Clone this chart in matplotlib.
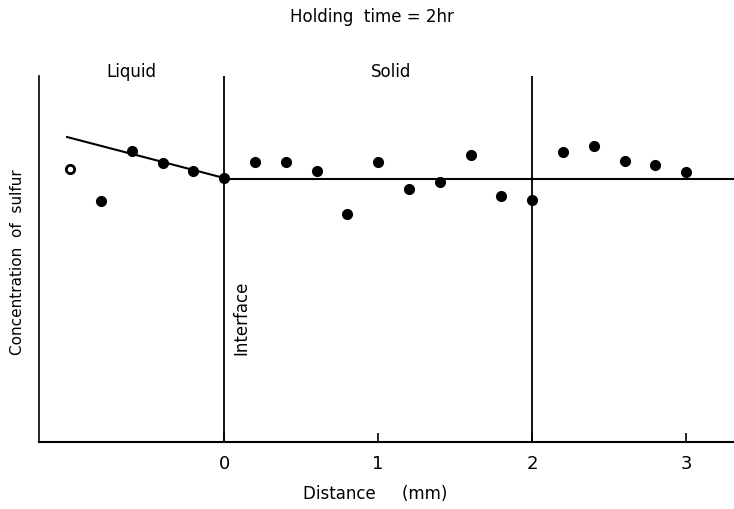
import matplotlib
matplotlib.use("Agg")
import matplotlib.pyplot as plt

# Data (distance in mm, concentration in arbitrary units)
distance_liquid = [-1.0, -0.8, -0.6, -0.4, -0.2]
conc_liquid = [2.73, 2.41, 2.91, 2.79, 2.71]
distance_solid = [0.0, 0.2, 0.4, 0.6, 0.8, 1.0, 1.2, 1.4, 1.6, 1.8, 2.0,
                  2.2, 2.4, 2.6, 2.8, 3.0]
conc_solid = [2.64, 2.80, 2.80, 2.71, 2.28, 2.80, 2.53, 2.60, 2.87, 2.46, 2.42,
              2.90, 2.96, 2.81, 2.77, 2.70]
fit_liquid_x = [-1.02, 0.0]
fit_liquid_y = [3.05, 2.64]
fit_solid_x = [0.0, 3.4]
fit_solid_y = [2.635, 2.635]
xticks = [0, 1, 2, 3]
interface_lines = [0, 2]

fig = plt.figure(figsize=(7.34, 5.10), dpi=100)
ax = fig.add_axes([38.5 / 734, 67 / 510, 1 - 38.5 / 734, 366 / 510])
ax.set_xlim(-1.205, 3.31)
ax.set_ylim(0, 3.66)

lw = 1.5
for xv in interface_lines:
    ax.axvline(xv, color="black", lw=1.3)
ax.plot(fit_liquid_x, fit_liquid_y, color="black", lw=lw, zorder=2)
ax.plot(fit_solid_x, fit_solid_y, color="black", lw=lw, zorder=2)

# first liquid point is hollow
ax.plot(distance_liquid[:1], conc_liquid[:1], "o", ms=6, mfc="white",
        mec="black", mew=2, zorder=3)
ax.plot(distance_liquid[1:], conc_liquid[1:], "o", ms=7, color="black", zorder=3)
ax.plot(distance_solid, conc_solid, "o", ms=7, color="black", zorder=3)

for s in ["top", "right"]:
    ax.spines[s].set_visible(False)
ax.spines["left"].set_linewidth(1.2)
ax.spines["bottom"].set_linewidth(1.5)
ax.set_yticks([])
ax.set_xticks(xticks)
ax.set_xticklabels([str(t) for t in xticks])
ax.tick_params(axis="x", direction="in", length=6.5, width=1.2, labelsize=13, pad=9)

fs = 12
fig.text(372 / 734, 1 - 17 / 510, "Holding  time = 2hr", ha="center", va="center", fontsize=fs)
fig.text(131 / 734, 1 - 72 / 510, "Liquid", ha="center", va="center", fontsize=fs)
fig.text(391 / 734, 1 - 72 / 510, "Solid", ha="center", va="center", fontsize=fs)
fig.text(375 / 734, 1 - 494 / 510, "Distance     (mm)", ha="center", va="center", fontsize=fs)
fig.text(18 / 734, 1 - 262 / 510, "Concentration  of  sulfur", ha="center", va="center",
         rotation=90, fontsize=11)
fig.text(241 / 734, 1 - 318 / 510, "Interface", ha="center", va="center",
         rotation=90, fontsize=fs)

fig.savefig("out.png", dpi=100)
